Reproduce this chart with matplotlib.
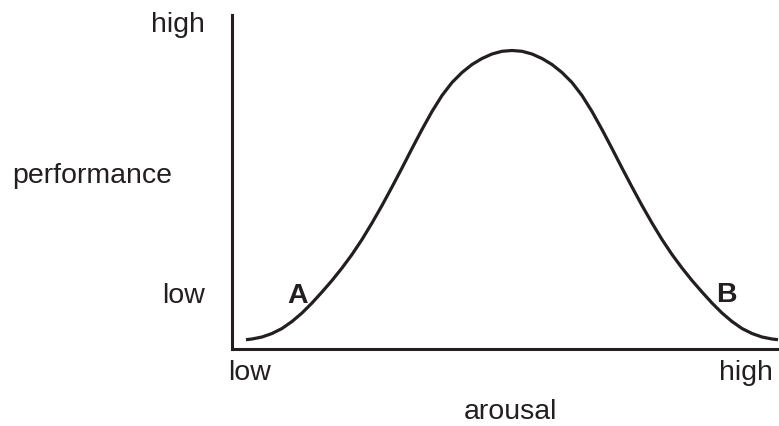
import matplotlib
matplotlib.use("Agg")
import matplotlib.pyplot as plt

# Curve (arousal in px from the y-axis, performance in px above the x-axis)
arousal = [14, 20, 30, 40, 50, 60, 70, 80, 90, 100, 110, 120, 130, 140, 150, 160, 170, 180, 190,
           200, 210, 220, 230, 240, 250, 260, 270, 280,
           290, 300, 310, 320, 330, 340, 350, 360, 370, 380, 390, 400, 410, 420, 430, 440, 450,
           460, 470, 480, 490, 500, 510, 520, 530, 540, 546]
performance = [9.3, 10, 12, 15.5, 20.5, 27.5, 36, 46, 57, 68.5, 81, 94.5, 109.5, 126, 143.5, 162,
               181, 200.5, 219.5, 237.5, 253.5, 266.5, 276.5, 284.5, 290.5, 295, 297.7, 298.5,
               297.7, 295, 290.5, 284.5, 276.5, 266.5, 253.5, 237.5, 219.5, 200.5, 181, 162,
               143.5, 126, 109.5, 94.5, 81, 68.5, 57, 46, 36, 27.5, 20.5, 15.5, 12, 10, 9.3]

y_labels = ["high", "performance", "low"]
x_labels = ["low", "high"]
x_title = "arousal"
point_labels = ["A", "B"]

W, H = 779, 426
ink = "#231f20"
plt.rcParams['font.family'] = ['Liberation Sans', 'DejaVu Sans']

fig = plt.figure(figsize=(W / 100, H / 100), dpi=100)
ax = fig.add_axes([232 / W, (H - 349) / H, 547 / W, 334 / H])
ax.plot(arousal, performance, color=ink, lw=2.3, clip_on=False,
        solid_capstyle='butt', solid_joinstyle='round')
ax.set_xlim(0, 547)
ax.set_ylim(0, 334)
for s in ["top", "right"]:
    ax.spines[s].set_visible(False)
for s in ["left", "bottom"]:
    ax.spines[s].set_linewidth(2.2)
    ax.spines[s].set_color(ink)
    ax.spines[s].set_capstyle('projecting')
ax.set_xticks([])
ax.set_yticks([])

fs = 20.5
def ftext(x, y, s, ha, weight="normal"):
    fig.text(x / W, 1 - y / H, s, ha=ha, va="baseline", fontsize=fs, color=ink, fontweight=weight)

ftext(205, 32, y_labels[0], "right")
ftext(12, 183, y_labels[1], "left")
ftext(205, 303, y_labels[2], "right")
ftext(228, 380, x_labels[0], "left")
ftext(773, 380, x_labels[1], "right")
ftext(510, 419, x_title, "center")
ftext(297.5, 303, point_labels[0], "center", "bold")
ftext(726.5, 302, point_labels[1], "center", "bold")

fig.savefig("out.png", dpi=100)
